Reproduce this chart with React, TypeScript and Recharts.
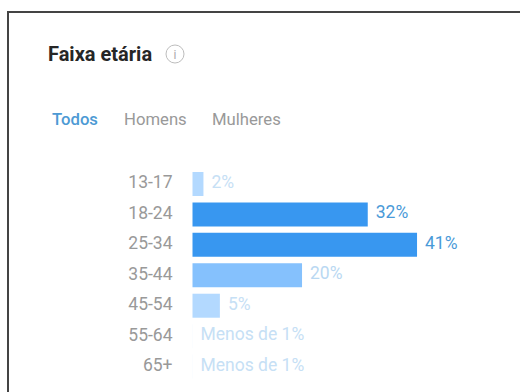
import React from "react";
import { BarChart, Bar, XAxis, YAxis, Cell, LabelList } from "recharts";

const ageGroups = ["13-17", "18-24", "25-34", "35-44", "45-54", "55-64", "65+"];
// The two smallest groups sit below 1%, too thin to show as a bar.
const shares = [2, 32, 41, 20, 5, 0.01, 0.01];
const shareLabels = ["2%", "32%", "41%", "20%", "5%", "Menos de 1%", "Menos de 1%"];
const barColors = ["#b3d9ff", "#3897f0", "#3897f0", "#85c1fd", "#b3d9ff", "#b3d9ff", "#b3d9ff"];
const labelColors = ["#c6e0f5", "#4a9ad8", "#4a9ad8", "#b9d8f2", "#c6e0f5", "#c6e0f5", "#c6e0f5"];
const tabs = ["Todos", "Homens", "Mulheres"];
const tabLefts = [52, 124, 212];
const tabColors = ["#4d9ad4", "#999999", "#999999"];

const rows = ageGroups.map((age, i) => ({ age, share: shares[i], label: shareLabels[i] }));
const font = "Roboto, sans-serif";

function ShareLabel(props: any) {
  const { x, y, width, height, index } = props;
  return (
    <text
      x={x + width + 8}
      y={y + height / 2 - 2}
      dominantBaseline="central"
      fontFamily={font}
      fontSize={17.5}
      fill={labelColors[index]}
    >
      {shareLabels[index]}
    </text>
  );
}

export default function App() {
  return (
    <div style={{ position: "absolute", left: 0, top: 0, width: 520, height: 392, background: "#fff", overflow: "hidden", fontFamily: font }}>
      <div style={{ position: "absolute", left: 7, top: 11, width: 530, height: 400, border: "2px solid #444", boxSizing: "border-box" }} />
      <div style={{ position: "absolute", left: 48, top: 43, fontSize: 20, fontWeight: 700, color: "#262626", lineHeight: "22px" }}>Faixa etária</div>
      <svg style={{ position: "absolute", left: 164, top: 44 }} width={22} height={22}>
        <circle cx={11} cy={10} r={9} fill="none" stroke="#bdbdbd" strokeWidth={1} />
        <text x={11} y={14.5} textAnchor="middle" fontSize={12} fontFamily={font} fill="#aaaaaa">i</text>
      </svg>
      {tabs.map((tab, i) => (
        <div key={tab} style={{ position: "absolute", left: tabLefts[i], top: 110, fontSize: 16.7, lineHeight: "20px", color: tabColors[i], fontWeight: i === 0 ? 500 : 400 }}>{tab}</div>
      ))}
      <div style={{ position: "absolute", left: 0, top: 169 }}>
        <BarChart
          width={520}
          height={213}
          data={rows}
          layout="vertical"
          margin={{ top: 0, right: 0, bottom: 0, left: 0 }}
          barCategoryGap={3}
        >
          <XAxis type="number" hide domain={[0, 59.8]} />
          <YAxis
            type="category"
            dataKey="age"
            width={192.5}
            axisLine={false}
            tickLine={false}
            tickMargin={14}
            tick={{ fontFamily: font, fontSize: 17.5, fill: "#999999", dy: -2 }}
          />
          <Bar dataKey="share" isAnimationActive={false}>
            {rows.map((r, i) => (
              <Cell key={r.age} fill={barColors[i]} />
            ))}
            <LabelList dataKey="label" content={ShareLabel} />
          </Bar>
        </BarChart>
      </div>
    </div>
  );
}
